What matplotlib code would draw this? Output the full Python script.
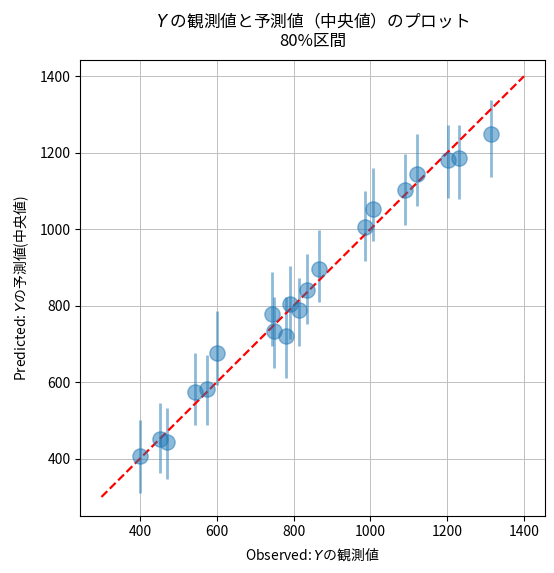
import matplotlib
matplotlib.use('Agg')
import matplotlib.pyplot as plt
import numpy as np

plt.rcParams['font.family'] = ['Noto Sans CJK JP', 'DejaVu Sans']
plt.rcParams['mathtext.fontset'] = 'dejavusans'

# observed vs predicted (median) with 80% interval
observed = [400, 452, 471, 543, 574, 600, 744, 748, 780, 791,
            813, 836, 867, 986, 1008, 1090, 1122, 1202, 1231, 1314]
pred_median = [408, 452, 444, 575, 581, 677, 779, 733, 722, 805,
               788, 842, 897, 1007, 1054, 1102, 1145, 1182, 1185, 1250]
pred_lower = [311, 362, 346, 488, 488, 592, 695, 636, 610, 713,
              695, 752, 809, 917, 969, 1010, 1062, 1081, 1078, 1136]
pred_upper = [502, 546, 533, 677, 672, 787, 888, 824, 823, 903,
              873, 936, 999, 1101, 1161, 1196, 1250, 1272, 1272, 1337]
diag = [300, 1400]

obs = np.array(observed)
med = np.array(pred_median)
yerr = np.array([med - np.array(pred_lower), np.array(pred_upper) - med])

fig, ax = plt.subplots(figsize=(5.54, 5.73), dpi=100)
ax.errorbar(obs, med, yerr=yerr, fmt='o', ms=11, lw=2, alpha=0.5, color='C0')
ax.plot(diag, diag, 'r--', lw=1.6)
ax.set_xlabel('Observed: $Y$の観測値')
ax.set_ylabel('Predicted: $Y$の予測値(中央値)', labelpad=6)
ax.set_title('$Y$ の観測値と予測値（中央値）のプロット\n80%区間', fontsize=12,
             linespacing=1.15, pad=10)
ax.set_xticks([400, 600, 800, 1000, 1200, 1400])
ax.set_yticks([400, 600, 800, 1000, 1200, 1400])
ax.grid(True, color='#c0c0c0', lw=0.7)
ax.set_ylim(251, 1442)
fig.subplots_adjust(left=0.145, right=0.984, top=0.895, bottom=0.10)
fig.savefig('out.png', dpi=100)
